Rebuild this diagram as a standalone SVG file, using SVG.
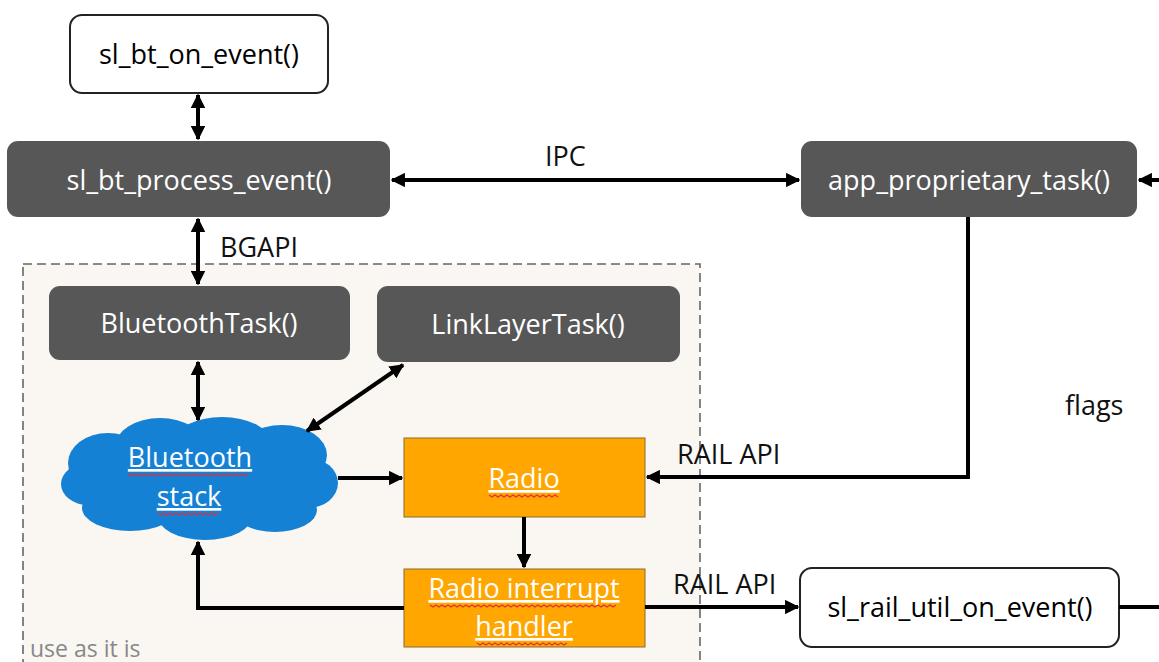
<svg xmlns="http://www.w3.org/2000/svg" width="1159" height="662" viewBox="0 0 1159 662">
<style>
text{font-family:"Open Sans","Liberation Sans",sans-serif;font-size:27px;}
.dark{fill:#575757;}
.wt{fill:#ffffff;text-anchor:middle;}
.bt{fill:#000000;text-anchor:middle;}
.lbl{fill:#111111;}
.c{stroke:#000;stroke-width:4;fill:none;}
.orange{fill:#ffa600;stroke:#8a6a2a;stroke-width:1;}
.ul{text-decoration:underline;}
.sq{stroke:#e0303a;stroke-width:1.2;fill:none;}
</style>
<defs>
<marker id="ah" viewBox="0 0 10 10" refX="9" refY="5" markerWidth="3.6" markerHeight="3.6" orient="auto-start-reverse" markerUnits="strokeWidth">
<path d="M0,0 L10,5 L0,10 z" fill="#000"/>
</marker>
</defs>
<rect width="1159" height="662" fill="#ffffff"/>
<g id="container">
<rect x="23" y="264" width="677" height="400" fill="#faf6f2" stroke="#666" stroke-width="1.6" stroke-dasharray="9,5"/>
<text x="30" y="657" style="font-size:23px" fill="#888">use as it is</text>
</g>
<g id="sl_bt_on_event">
<rect x="70" y="15" width="258" height="78" rx="12" fill="#fff" stroke="#222" stroke-width="2"/>
<text x="199" y="64" class="bt">sl_bt_on_event()</text>
</g>
<g id="sl_bt_process_event">
<rect x="7" y="141" width="383" height="76" rx="11" class="dark"/>
<text x="199" y="190" class="wt">sl_bt_process_event()</text>
</g>
<g id="app_proprietary_task">
<rect x="801" y="141" width="336" height="76" rx="11" class="dark"/>
<text x="969" y="190" class="wt">app_proprietary_task()</text>
</g>
<g id="BluetoothTask">
<rect x="49" y="286" width="301" height="74" rx="11" class="dark"/>
<text x="199" y="333" class="wt">BluetoothTask()</text>
</g>
<g id="LinkLayerTask">
<rect x="377" y="286" width="303" height="76" rx="11" class="dark"/>
<text x="528" y="334" class="wt">LinkLayerTask()</text>
</g>
<g id="bluetooth_stack" fill="#1581d4">
<ellipse cx="200" cy="478" rx="112" ry="42"/>
<ellipse cx="108" cy="463" rx="40" ry="30"/>
<ellipse cx="160" cy="447" rx="45" ry="29"/>
<ellipse cx="222" cy="442" rx="48" ry="25"/>
<ellipse cx="282" cy="455" rx="45" ry="30"/>
<ellipse cx="308" cy="483" rx="30" ry="25"/>
<ellipse cx="275" cy="510" rx="42" ry="22"/>
<ellipse cx="205" cy="515" rx="48" ry="25"/>
<ellipse cx="130" cy="508" rx="48" ry="23"/>
<ellipse cx="88" cy="484" rx="27" ry="21"/>
<text x="190" y="467" class="wt ul">Bluetooth</text>
<text x="189" y="506" class="wt ul">stack</text>
<path class="sq" d="M128,474 l3,2 3,-2 3,2 3,-2 3,2 3,-2 3,2 3,-2 3,2 3,-2 3,2 3,-2 3,2 3,-2 3,2 3,-2 3,2 3,-2 3,2 3,-2 3,2 3,-2 3,2 3,-2 3,2 3,-2 3,2 3,-2 3,2 3,-2 3,2 3,-2 3,2 3,-2 3,2 3,-2 3,2 3,-2 3,2 3,-2"/>
<path class="sq" d="M158,513 l3,2 3,-2 3,2 3,-2 3,2 3,-2 3,2 3,-2 3,2 3,-2 3,2 3,-2 3,2 3,-2 3,2 3,-2 3,2 3,-2 3,2 3,-2"/>
</g>
<g id="Radio">
<rect x="404" y="438" width="241" height="79" class="orange"/>
<text x="524" y="488" class="wt ul">Radio</text>
<path class="sq" d="M489,495 l3,2 3,-2 3,2 3,-2 3,2 3,-2 3,2 3,-2 3,2 3,-2 3,2 3,-2 3,2 3,-2 3,2 3,-2 3,2 3,-2 3,2 3,-2 3,2 3,-2 3,2"/>
</g>
<g id="radio_interrupt_handler">
<rect x="404" y="569" width="241" height="78" class="orange"/>
<text x="524" y="598" class="wt ul">Radio interrupt</text>
<text x="524" y="636" class="wt ul">handler</text>
<path class="sq" d="M430,605 l3,2 3,-2 3,2 3,-2 3,2 3,-2 3,2 3,-2 3,2 3,-2 3,2 3,-2 3,2 3,-2 3,2 3,-2 3,2 3,-2 3,2 3,-2 3,2 3,-2 3,2 3,-2 3,2 3,-2 3,2 3,-2 3,2 3,-2 3,2 3,-2 3,2 3,-2 3,2 3,-2 3,2 3,-2 3,2 3,-2 3,2 3,-2 3,2 3,-2 3,2 3,-2 3,2 3,-2 3,2 3,-2 3,2 3,-2 3,2 3,-2 3,2 3,-2 3,2 3,-2 3,2 3,-2 3,2 3,-2"/>
<path class="sq" d="M477,643 l3,2 3,-2 3,2 3,-2 3,2 3,-2 3,2 3,-2 3,2 3,-2 3,2 3,-2 3,2 3,-2 3,2 3,-2 3,2 3,-2 3,2 3,-2 3,2 3,-2 3,2 3,-2 3,2 3,-2 3,2 3,-2 3,2 3,-2"/>
</g>
<g id="sl_rail_util_on_event">
<rect x="800" y="568" width="319" height="79" rx="12" fill="#fff" stroke="#222" stroke-width="2"/>
<text x="960" y="617" class="bt">sl_rail_util_on_event()</text>
</g>
<g id="connectors">
<line class="c" x1="198" y1="95" x2="198" y2="139" marker-start="url(#ah)" marker-end="url(#ah)"/>
<line class="c" x1="198" y1="219" x2="198" y2="284" marker-start="url(#ah)" marker-end="url(#ah)"/>
<line class="c" x1="198" y1="362" x2="198" y2="420" marker-start="url(#ah)" marker-end="url(#ah)"/>
<line class="c" x1="392" y1="180" x2="799" y2="180" marker-start="url(#ah)" marker-end="url(#ah)"/>
<line class="c" x1="1159" y1="180" x2="1139" y2="180" marker-end="url(#ah)"/>
<line class="c" x1="403" y1="365" x2="307" y2="431" marker-start="url(#ah)" marker-end="url(#ah)"/>
<line class="c" x1="338" y1="478" x2="402" y2="478" marker-end="url(#ah)"/>
<line class="c" x1="524" y1="517" x2="524" y2="567" marker-end="url(#ah)"/>
<polyline class="c" points="404,608 198,608 198,542" marker-end="url(#ah)"/>
<polyline class="c" points="968,217 968,477 647,477" marker-end="url(#ah)"/>
<line class="c" x1="645" y1="607" x2="798" y2="607" marker-end="url(#ah)"/>
<line class="c" x1="1119" y1="607" x2="1159" y2="607"/>
<text x="220" y="257" class="lbl">BGAPI</text>
<text x="545" y="166" class="lbl">IPC</text>
<text x="677" y="464" class="lbl">RAIL API</text>
<text x="673" y="594" class="lbl">RAIL API</text>
<text x="1065" y="415" class="lbl">flags</text>
</g>
</svg>
